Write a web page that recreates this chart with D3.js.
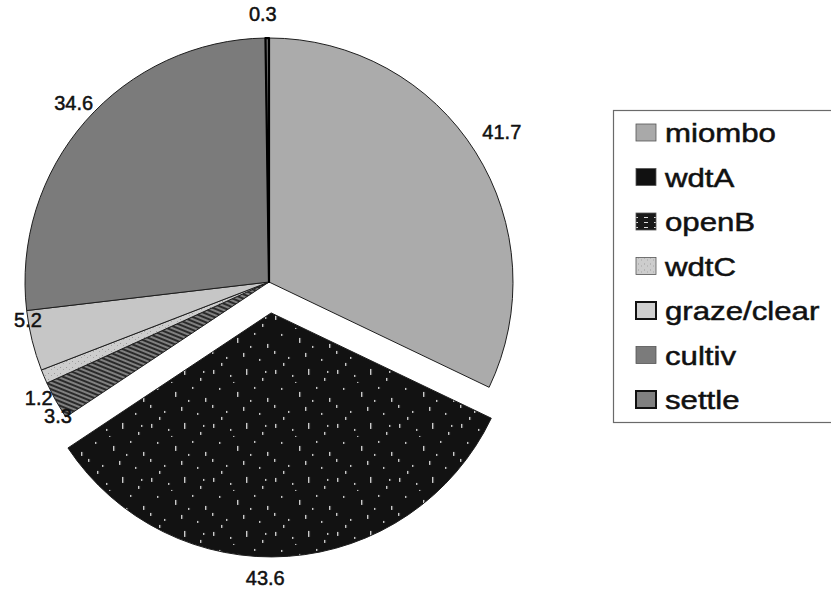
<!DOCTYPE html>
<html>
<head>
<meta charset="utf-8">
<script src="https://cdn.jsdelivr.net/npm/d3@7"></script>
<style>
  html, body { margin: 0; padding: 0; background: #fff; }
  svg { display: block; }
  text { font-family: "Liberation Sans", Arial, sans-serif; fill: #111; stroke: #111; }
</style>
</head>
<body>
<svg id="chart" width="831" height="594"></svg>
<script>
// Land-cover shares, in drawing order (clockwise from 12 o'clock)
const categories = ["miombo", "wdtA", "openB", "wdtC", "graze/clear", "cultiv", "settle"];
const values = [41.7, 43.6, 3.3, 1.2, 5.2, 34.6, 0.3];
const explodedCategory = "wdtA";

// Label placement tweaks for crowded slices: angle shift (deg) and gap beyond the rim (px)
const labelShift = {
  "miombo": [-0.6, 33],
  "wdtA": [5.3, 21],
  "openB": [-3.4, 6],
  "wdtC": [-4.0, 14],
  "graze/clear": [4.9, 0],
  "cultiv": [1.3, 21],
  "settle": [-0.9, 24]
};

const data = categories.map((c, i) => ({ name: c, value: values[i] }));

const svg = d3.select("#chart");
const defs = svg.append("defs");

// wdtA: black with sparse white ticks
const pA = defs.append("pattern").attr("id", "patA").attr("patternUnits", "userSpaceOnUse")
  .attr("width", 62).attr("height", 54);
pA.append("rect").attr("width", 62).attr("height", 54).attr("fill", "#121212");
[[4,3,4],[21,8,2],[37,2,6],[53,11,3],[10,21,2],[28,25,5],[45,20,2],[58,31,4],
 [3,38,3],[17,44,2],[34,40,4],[50,46,2],[24,15,1],[41,33,2],[12,50,3],[56,4,2]]
  .forEach(([x, y, h]) => pA.append("rect").attr("x", x).attr("y", y).attr("width", 1.2).attr("height", h).attr("fill", "#f2f2f2"));

// openB: dark diagonal hatching on grey
const pB = defs.append("pattern").attr("id", "patB").attr("patternUnits", "userSpaceOnUse")
  .attr("width", 8).attr("height", 4).attr("patternTransform", "rotate(22)");
pB.append("rect").attr("width", 8).attr("height", 4).attr("fill", "#808080");
pB.append("rect").attr("y", 0).attr("width", 8).attr("height", 2).attr("fill", "#2a2a2a");

// openB legend swatch: black with white dashes
const pB2 = defs.append("pattern").attr("id", "patB2").attr("patternUnits", "userSpaceOnUse")
  .attr("width", 10).attr("height", 5);
pB2.append("rect").attr("width", 10).attr("height", 5).attr("fill", "#1a1a1a");
pB2.append("rect").attr("x", 1).attr("y", 2).attr("width", 4).attr("height", 1).attr("fill", "#ddd");

// wdtC: light grey with faint speckles
const pC = defs.append("pattern").attr("id", "patC").attr("patternUnits", "userSpaceOnUse")
  .attr("width", 6).attr("height", 6);
pC.append("rect").attr("width", 6).attr("height", 6).attr("fill", "#cdcdcd");
pC.append("rect").attr("x", 1).attr("y", 1).attr("width", 1).attr("height", 1).attr("fill", "#9a9a9a");
pC.append("rect").attr("x", 4).attr("y", 3).attr("width", 1).attr("height", 1).attr("fill", "#a5a5a5");

const fills = {
  "miombo": "#ababab",
  "wdtA": "url(#patA)",
  "openB": "url(#patB)",
  "wdtC": "url(#patC)",
  "graze/clear": "#c6c6c6",
  "cultiv": "#7b7b7b",
  "settle": "#6d6d6d"
};
const swatchFills = {
  "miombo": "#a9a9a9",
  "wdtA": "#111",
  "openB": "url(#patB2)",
  "wdtC": "url(#patC)",
  "graze/clear": "#cfcfcf",
  "cultiv": "#7b7b7b",
  "settle": "#808080"
};

// Pie geometry
const cx = 269, cy = 282, radius = 244, explode = 31;
const pie = d3.pie().sort(null).value(d => d.value);
const arc = d3.arc().innerRadius(0).outerRadius(radius);
const arcs = pie(data);

const mid = d => (d.startAngle + d.endAngle) / 2;
const offsetFor = d => d.data.name === explodedCategory
  ? [Math.sin(mid(d)) * explode, -Math.cos(mid(d)) * explode] : [0, 0];

const g = svg.append("g").attr("transform", `translate(${cx},${cy})`);

g.selectAll("path.slice")
  .data(arcs)
  .join("path")
  .attr("class", "slice")
  .attr("transform", d => `translate(${offsetFor(d)})`)
  .attr("d", arc)
  .attr("fill", d => fills[d.data.name])
  .attr("stroke", d => d.data.name === "settle" ? "#000" : "#1e1e1e")
  .attr("stroke-width", d => d.data.name === "settle" ? 2.2 : 1)
  .attr("stroke-linejoin", "round");

// Value labels
g.selectAll("text.val")
  .data(arcs)
  .join("text")
  .attr("class", "val")
  .attr("text-anchor", "middle")
  .attr("dy", "0.35em")
  .attr("font-size", 20)
  .attr("stroke-width", 0.5)
  .attr("transform", d => {
    const [da, gap] = labelShift[d.data.name];
    const a = mid(d) + da * Math.PI / 180;
    const [ox, oy] = offsetFor(d);
    const rr = radius + gap;
    return `translate(${ox + Math.sin(a) * rr},${oy - Math.cos(a) * rr})`;
  })
  .text(d => d3.format(".1f")(d.data.value));

// Legend
const legend = svg.append("g").attr("transform", "translate(613,110)");
legend.append("rect")
  .attr("x", 0.5).attr("y", 0.5).attr("width", 240).attr("height", 312)
  .attr("fill", "#fff").attr("stroke", "#6a6a6a").attr("stroke-width", 1.2);

const rowY = d3.scalePoint().domain(categories).range([31, 298]);
const item = legend.selectAll("g.item").data(categories).join("g")
  .attr("class", "item")
  .attr("transform", d => `translate(0,${rowY(d)})`);

item.append("rect")
  .attr("x", 23).attr("y", -17).attr("width", 20).attr("height", 17)
  .attr("fill", d => swatchFills[d])
  .attr("stroke", d => (d === "graze/clear" || d === "settle") ? "#111" : "#555")
  .attr("stroke-width", d => (d === "graze/clear" || d === "settle") ? 2 : 0.8);

item.append("text")
  .attr("transform", "translate(52,1) scale(1.2,1)")
  .attr("font-size", 26)
  .attr("stroke-width", 0.5)
  .text(d => d);
</script>
</body>
</html>
